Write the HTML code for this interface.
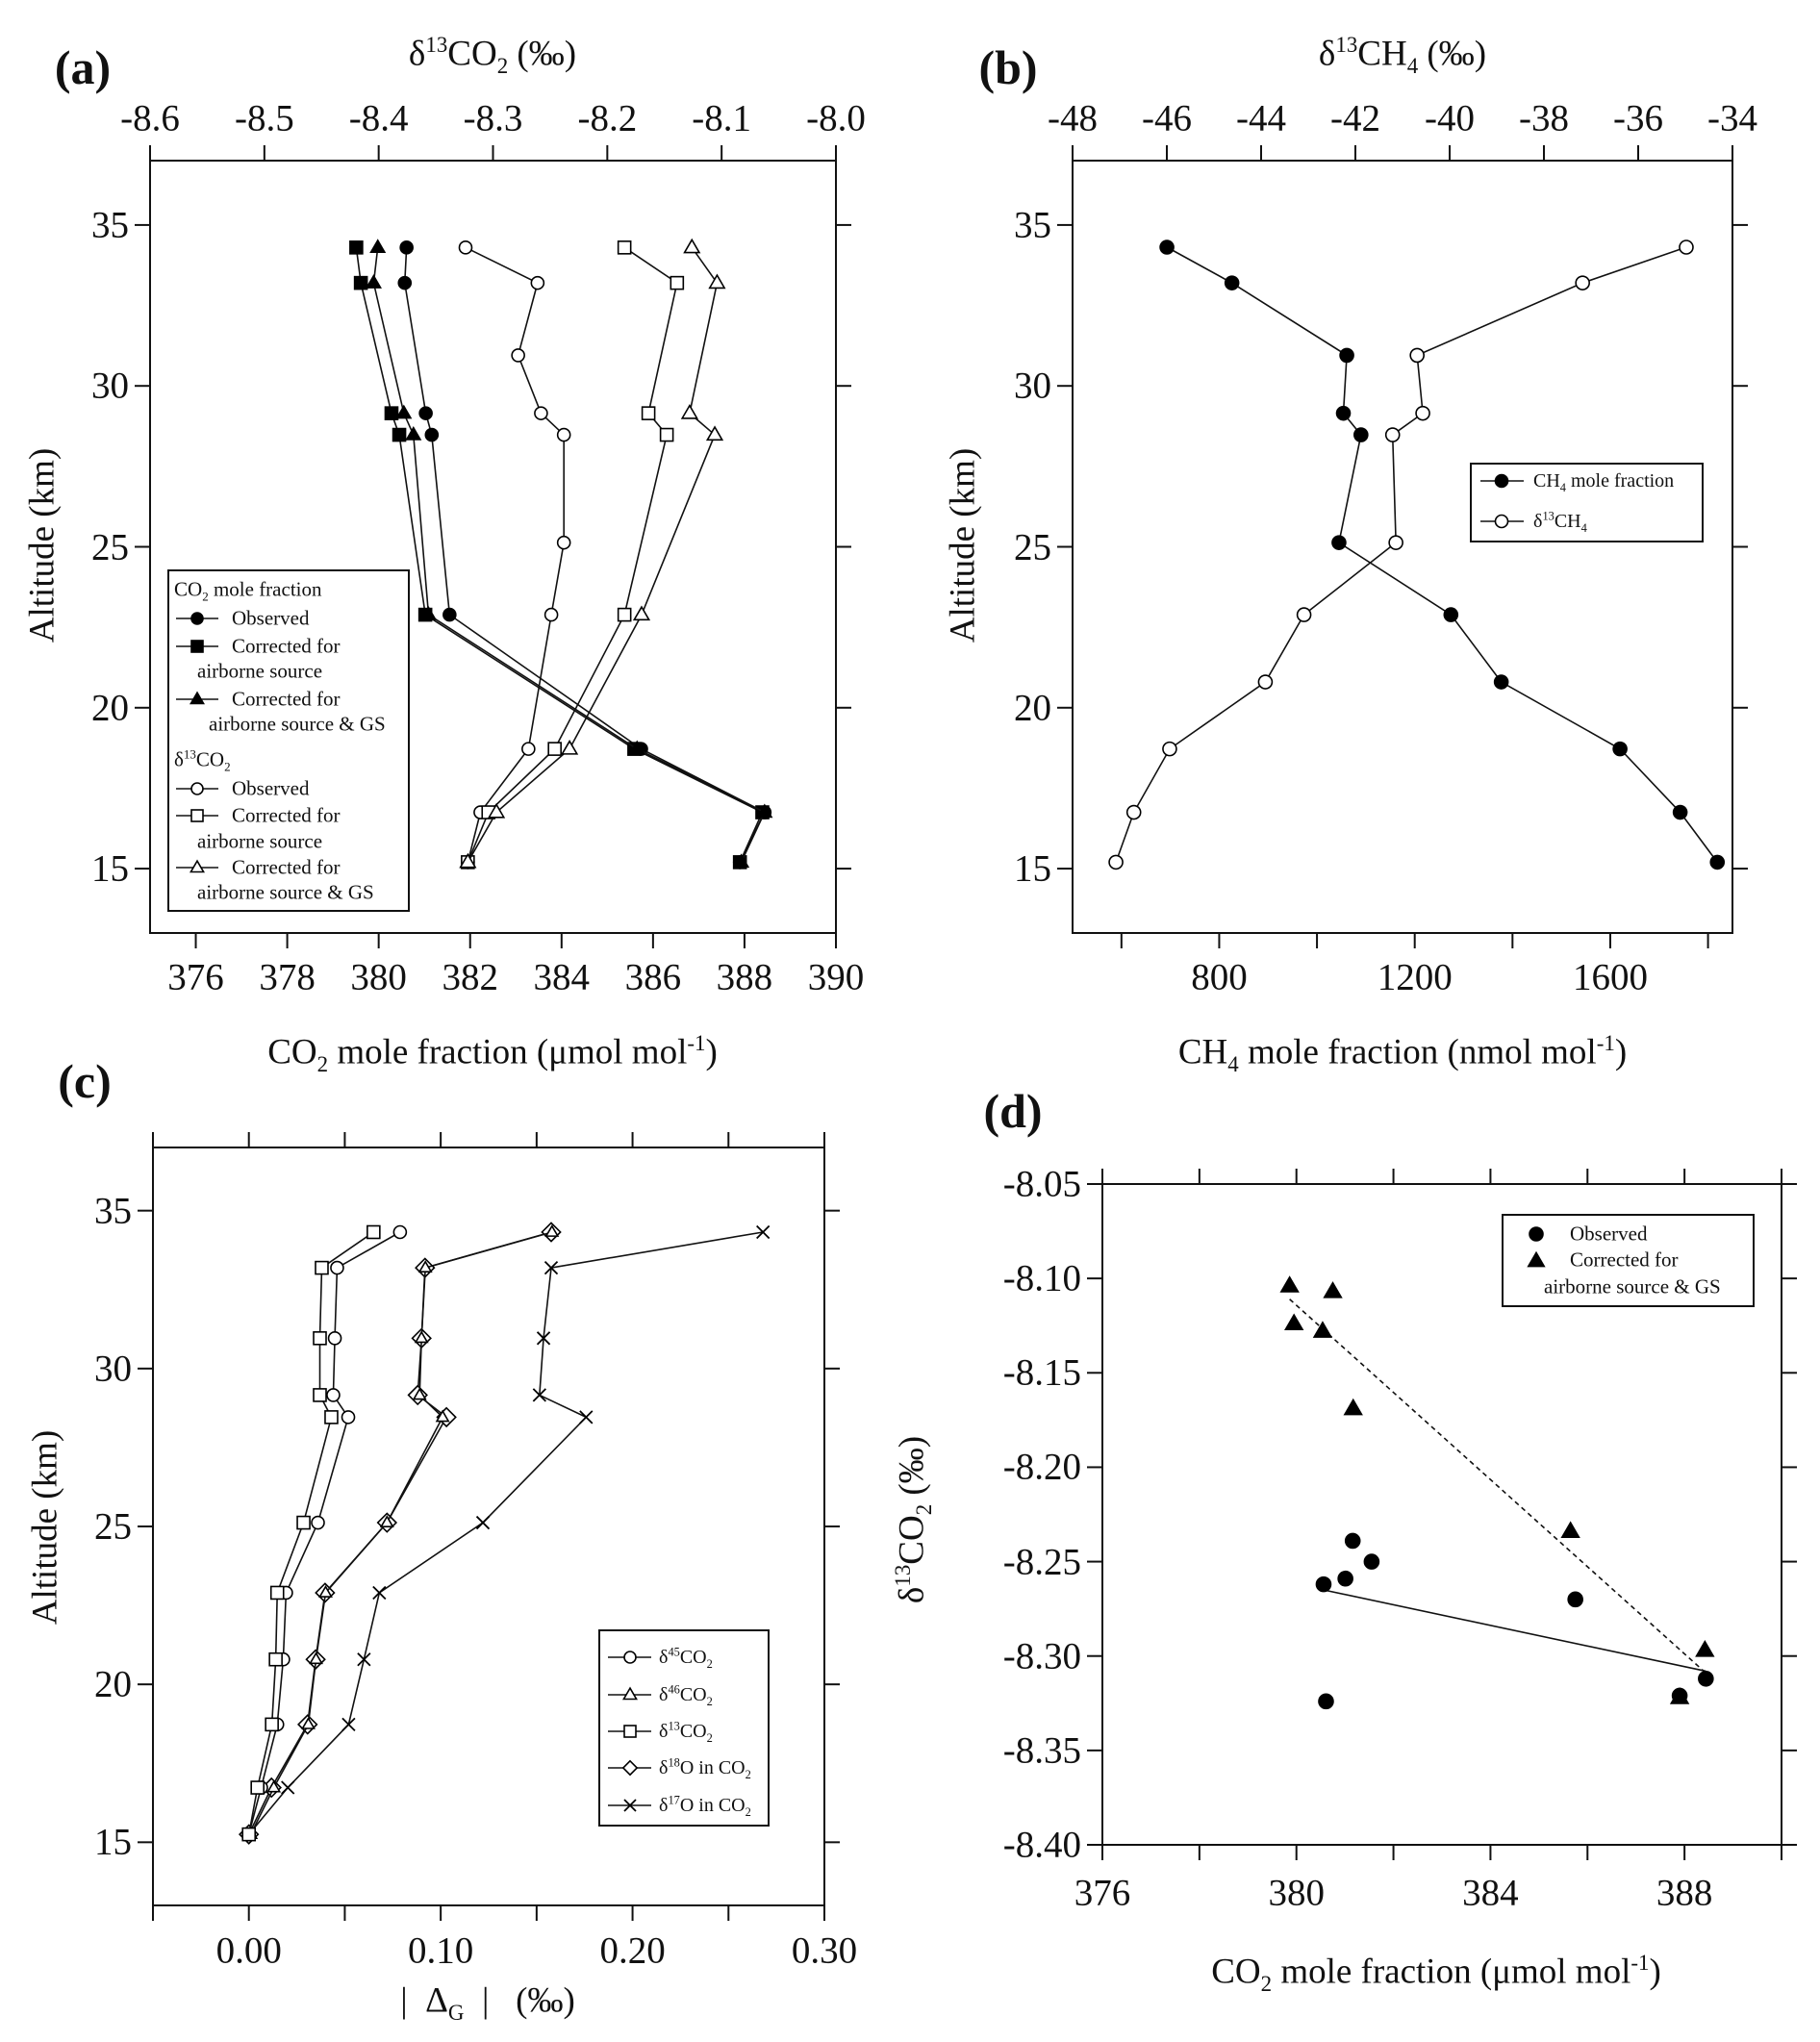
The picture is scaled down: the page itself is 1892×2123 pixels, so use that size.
<!DOCTYPE html>
<html><head><meta charset="utf-8">
<style>
html,body{margin:0;padding:0;background:#fff;}
#root{position:relative;width:1892px;height:2123px;overflow:hidden;background:#fff;font-family:"Liberation Serif","DejaVu Serif",serif;color:#111;}
svg{position:absolute;left:0;top:0;}
.t{position:absolute;white-space:nowrap;transform:translate(-50%,-50%);line-height:1;}
.tl{position:absolute;white-space:nowrap;transform:translate(0,-50%);line-height:1;}
.tr{position:absolute;white-space:nowrap;transform:translate(-100%,-50%);line-height:1;}
sub,sup{font-size:62%;line-height:0;}
.rot{position:absolute;white-space:nowrap;transform:translate(-50%,-50%) rotate(-90deg);line-height:1;}
</style></head>
<body>
<div id="root">
<svg id="svg" width="1892" height="2123" xmlns="http://www.w3.org/2000/svg"></svg>
</div>
<script>
// ---------- Panel (a) data ----------
const altA = [34.3, 33.2, 29.15, 28.48, 22.89, 18.72, 16.75, 15.2];
const co2Obs = [380.61, 380.57, 381.03, 381.16, 381.55, 385.74, 388.44, 387.9];
const co2Air = [379.51, 379.61, 380.28, 380.45, 381.02, 385.59, 388.39, 387.9];
const co2GS = [379.98, 379.89, 380.55, 380.76, 381.09, 385.65, 388.44, 387.93];
const altA13 = [34.3, 33.2, 30.95, 29.15, 28.48, 25.13, 22.89, 18.72, 16.75, 15.2];
const d13Obs = [-8.324, -8.261, -8.278, -8.258, -8.238, -8.238, -8.249, -8.269, -8.311, -8.322];
const d13Air = [-8.185, -8.139, -8.164, -8.148, -8.185, -8.246, -8.304, -8.322];
const d13GS = [-8.126, -8.104, -8.128, -8.106, -8.170, -8.233, -8.297, -8.322];
const aBottomTicks = [376, 378, 380, 382, 384, 386, 388, 390];
const aTopTicks = [-8.6, -8.5, -8.4, -8.3, -8.2, -8.1, -8.0];
const altTicks = [15, 20, 25, 30, 35];
// ---------- Panel (b) data ----------
const altB = [34.31, 33.2, 30.95, 29.15, 28.48, 25.13, 22.89, 20.8, 18.72, 16.75, 15.2];
const ch4 = [693, 826, 1061, 1054, 1090, 1045, 1274, 1377, 1620, 1743, 1819];
const d13ch4 = [-34.98, -37.18, -40.69, -40.57, -41.21, -41.14, -43.09, -43.91, -45.94, -46.70, -47.08];
const bBottomTicks = [600, 800, 1000, 1200, 1400, 1600, 1800];
const bBottomLabels = [800, 1200, 1600];
const bTopTicks = [-48, -46, -44, -42, -40, -38, -36, -34];
// ---------- Panel (c) data ----------
const altC = [34.32, 33.19, 30.96, 29.16, 28.46, 25.12, 22.9, 20.79, 18.73, 16.73, 15.25];
const d45 = [0.0788, 0.046, 0.0448, 0.044, 0.0518, 0.036, 0.0194, 0.0179, 0.0148, 0.0064, 0];
const d46 = [0.158, 0.092, 0.090, 0.089, 0.101, 0.072, 0.040, 0.035, 0.031, 0.013, 0.001];
const d13c = [0.065, 0.038, 0.037, 0.037, 0.043, 0.0285, 0.0148, 0.014, 0.012, 0.0045, 0];
const d18 = [0.1576, 0.0918, 0.090, 0.088, 0.103, 0.072, 0.0397, 0.0348, 0.0306, 0.0118, 0];
const d17 = [0.268, 0.1576, 0.1536, 0.1515, 0.1758, 0.122, 0.068, 0.060, 0.052, 0.0203, 0];
const cTicks = [-0.05, 0, 0.05, 0.10, 0.15, 0.20, 0.25, 0.30];
const cLabels = [0, 0.10, 0.20, 0.30];
// ---------- Panel (d) data ----------
const dObsX = [380.56, 381.01, 381.16, 381.55, 380.61, 385.75, 387.9, 388.44];
const dObsY = [-8.262, -8.259, -8.239, -8.250, -8.324, -8.270, -8.321, -8.312];
const dGSX = [379.86, 379.95, 380.75, 380.54, 381.17, 385.65, 388.42, 387.9];
const dGSY = [-8.104, -8.124, -8.107, -8.128, -8.169, -8.234, -8.297, -8.322];
const fitObsX = [380.56, 388.44];
const fitObsY = [-8.265, -8.308];
const fitGSX = [379.86, 388.44];
const fitGSY = [-8.111, -8.309];
const dXTicks = [376, 378, 380, 382, 384, 386, 388, 390];
const dXLabels = [376, 380, 384, 388];
const dYTicks = [-8.05, -8.10, -8.15, -8.20, -8.25, -8.30, -8.35, -8.40];

const NS = "http://www.w3.org/2000/svg";
const svg = document.getElementById('svg');
const root = document.getElementById('root');
const TF = 39;
const HF = 37;

function el(tag, attrs, parent) {
  const e = document.createElementNS(NS, tag);
  for (const k in attrs) e.setAttribute(k, attrs[k]);
  (parent || svg).appendChild(e);
  return e;
}
function scale(d0, d1, r0, r1) { return v => r0 + (v - d0) * (r1 - r0) / (d1 - d0); }
function text(html, x, y, cls, size, name, extra) {
  const d = document.createElement('div');
  d.className = cls;
  d.style.left = x + 'px'; d.style.top = y + 'px'; d.style.fontSize = size + 'px';
  if (extra) d.style.cssText += extra;
  d.innerHTML = html;
  
  
  root.appendChild(d);
  return d;
}
function marker(shape, x, y, filled, r, name) {
  const fill = filled ? '#000' : '#fff';
  const g = el('g', {});
  
  
  const st = {fill: fill, stroke: '#000', 'stroke-width': 1.6};
  if (shape === 'circle') el('circle', Object.assign({cx: x, cy: y, r: r}, st), g);
  else if (shape === 'square') el('rect', Object.assign({x: x - r, y: y - r, width: 2 * r, height: 2 * r}, st), g);
  else if (shape === 'triangle') el('polygon', Object.assign({points: `${x},${y - r * 1.15} ${x - r * 1.1},${y + r * 0.75} ${x + r * 1.1},${y + r * 0.75}`}, st), g);
  else if (shape === 'diamond') el('polygon', Object.assign({points: `${x},${y - r * 1.2} ${x + r * 1.2},${y} ${x},${y + r * 1.2} ${x - r * 1.2},${y}`}, st), g);
  else if (shape === 'cross') {
    el('line', {x1: x - r, y1: y - r, x2: x + r, y2: y + r, stroke: '#000', 'stroke-width': 1.8}, g);
    el('line', {x1: x - r, y1: y + r, x2: x + r, y2: y - r, stroke: '#000', 'stroke-width': 1.8}, g);
  }
  return g;
}
function series(xs, ys, sx, sy, shape, filled, r, name) {
  const pts = xs.map((v, i) => sx(v) + ',' + sy(ys[i])).join(' ');
  const pl = el('polyline', {points: pts, fill: 'none', stroke: '#111', 'stroke-width': 1.6});
  
  
  xs.forEach((v, i) => marker(shape, sx(v), sy(ys[i]), filled, r, name + '-point'));
}
function box(L, T, R, B, name) {
  const r = el('rect', {x: L, y: T, width: R - L, height: B - T, fill: 'none', stroke: '#111', 'stroke-width': 2});
  
  
}
function tick(x1, y1, x2, y2) { el('line', {x1, y1, x2, y2, stroke: '#111', 'stroke-width': 2}); }
function altAxis(L, R, sy, labelX, panel) {
  altTicks.forEach(v => {
    const y = sy(v);
    tick(L - 16, y, L, y);
    tick(R, y, R + 16, y);
    text(String(v), L - 22, y, 'tr', TF, panel + '-y-tick-label');
  });
}

// ============ Panel (a) ============
(function () {
  const L = 156, R = 869, T = 167, B = 970;
  const sx = scale(375, 390, L, R);
  const sxTop = scale(-8.6, -8.0, L, R);
  const sy = scale(13, 37, B, T);
  box(L, T, R, B, 'panel-a-plot-area');
  altAxis(L, R, sy, 0, 'panel-a');
  aBottomTicks.forEach(v => { tick(sx(v), B, sx(v), B + 16); text(String(v), sx(v), 1016, 't', TF, 'panel-a-x-tick-label'); });
  aTopTicks.forEach(v => { tick(sxTop(v), T - 16, sxTop(v), T); text(v.toFixed(1), sxTop(v), 123, 't', TF, 'panel-a-top-tick-label'); });
  series(co2Obs, altA, sx, sy, 'circle', true, 6.5, 'co2-observed');
  series(co2Air, altA, sx, sy, 'square', true, 6.5, 'co2-corrected-airborne');
  series(co2GS, altA, sx, sy, 'triangle', true, 6.5, 'co2-corrected-gs');
  series(d13Obs, altA13, sxTop, sy, 'circle', false, 6.5, 'd13co2-observed');
  series(d13Air, altA, sxTop, sy, 'square', false, 6.5, 'd13co2-corrected-airborne');
  series(d13GS, altA, sxTop, sy, 'triangle', false, 7, 'd13co2-corrected-gs');
  text('(a)', 86, 70, 't', 50, 'panel-a-label', 'font-weight:bold;');
  text('δ<sup>13</sup>CO<sub>2</sub> (‰)', 512, 56, 't', HF, 'panel-a-top-axis-title');
  text('CO<sub>2</sub> mole fraction (μmol mol<sup>-1</sup>)', 512, 1094, 't', HF, 'panel-a-x-axis-title');
  text('Altitude (km)', 44, 567, 'rot', HF, 'panel-a-y-axis-title');
  const lg = el('rect', {x: 175, y: 593, width: 250, height: 354, fill: '#fff', stroke: '#111', 'stroke-width': 2});
  
  
  text('CO<sub>2</sub> mole fraction', 181, 613, 'tl', 21, 'legend-header-co2');
  const rows = [[643, 'circle', true, 'Observed'], [672, 'square', true, 'Corrected for'], [727, 'triangle', true, 'Corrected for'],
                [820, 'circle', false, 'Observed'], [848, 'square', false, 'Corrected for'], [902, 'triangle', false, 'Corrected for']];
  rows.forEach(rw => {
    el('line', {x1: 183, y1: rw[0], x2: 227, y2: rw[0], stroke: '#111', 'stroke-width': 1.6});
    marker(rw[1], 205, rw[0], rw[2], 6, 'legend-marker');
    text(rw[3], 241, rw[0], 'tl', 21, 'legend-entry');
  });
  text('airborne source', 205, 698, 'tl', 21, 'legend-entry');
  text('airborne source &amp; GS', 217, 753, 'tl', 21, 'legend-entry');
  text('δ<sup>13</sup>CO<sub>2</sub>', 181, 790, 'tl', 21, 'legend-header-d13co2');
  text('airborne source', 205, 875, 'tl', 21, 'legend-entry');
  text('airborne source &amp; GS', 205, 928, 'tl', 21, 'legend-entry');
})();

// ============ Panel (b) ============
(function () {
  const L = 1115, R = 1801, T = 167, B = 970;
  const sx = scale(500, 1850, L, R);
  const sxTop = scale(-48, -34, L, R);
  const sy = scale(13, 37, B, T);
  box(L, T, R, B, 'panel-b-plot-area');
  altAxis(L, R, sy, 0, 'panel-b');
  bBottomTicks.forEach(v => tick(sx(v), B, sx(v), B + 16));
  bBottomLabels.forEach(v => text(String(v), sx(v), 1016, 't', TF, 'panel-b-x-tick-label'));
  bTopTicks.forEach(v => { tick(sxTop(v), T - 16, sxTop(v), T); text(String(v), sxTop(v), 123, 't', TF, 'panel-b-top-tick-label'); });
  series(ch4, altB, sx, sy, 'circle', true, 7, 'ch4-mole-fraction');
  series(d13ch4, altB, sxTop, sy, 'circle', false, 7, 'd13ch4');
  text('(b)', 1048, 70, 't', 50, 'panel-b-label', 'font-weight:bold;');
  text('δ<sup>13</sup>CH<sub>4</sub> (‰)', 1458, 56, 't', HF, 'panel-b-top-axis-title');
  text('CH<sub>4</sub> mole fraction (nmol mol<sup>-1</sup>)', 1458, 1094, 't', HF, 'panel-b-x-axis-title');
  text('Altitude (km)', 1001, 567, 'rot', HF, 'panel-b-y-axis-title');
  const lg = el('rect', {x: 1529, y: 482, width: 241, height: 81, fill: '#fff', stroke: '#111', 'stroke-width': 2});
  
  
  [[500, true, 'CH<sub>4</sub> mole fraction'], [542, false, 'δ<sup>13</sup>CH<sub>4</sub>']].forEach(rw => {
    el('line', {x1: 1539, y1: rw[0], x2: 1584, y2: rw[0], stroke: '#111', 'stroke-width': 1.6});
    marker('circle', 1561, rw[0], rw[1], 6.5, 'legend-marker');
    text(rw[2], 1594, rw[0], 'tl', 20, 'legend-entry');
  });
})();

// ============ Panel (c) ============
(function () {
  const L = 159, R = 857, T = 1193, B = 1981;
  const sx = scale(-0.05, 0.30, L, R);
  const sy = scale(13, 37, B, T);
  box(L, T, R, B, 'panel-c-plot-area');
  altAxis(L, R, sy, 0, 'panel-c');
  cTicks.forEach(v => { tick(sx(v), B, sx(v), B + 16); tick(sx(v), T - 16, sx(v), T); });
  cLabels.forEach(v => text(v.toFixed(2), sx(v), 2028, 't', TF, 'panel-c-x-tick-label'));
  series(d17, altC, sx, sy, 'cross', false, 6.5, 'd17o-in-co2');
  series(d18, altC, sx, sy, 'diamond', false, 8, 'd18o-in-co2');
  series(d46, altC, sx, sy, 'triangle', false, 5.5, 'd46co2');
  series(d45, altC, sx, sy, 'circle', false, 6.5, 'd45co2');
  series(d13c, altC, sx, sy, 'square', false, 6.5, 'd13co2-delta');
  text('(c)', 88, 1124, 't', 50, 'panel-c-label', 'font-weight:bold;');
  text('|&nbsp;&nbsp;Δ<sub>G</sub>&nbsp;&nbsp;|&nbsp;&nbsp;&nbsp;(‰)', 507, 2080, 't', HF, 'panel-c-x-axis-title');
  text('Altitude (km)', 47, 1588, 'rot', HF, 'panel-c-y-axis-title');
  const lg = el('rect', {x: 623, y: 1695, width: 176, height: 203, fill: '#fff', stroke: '#111', 'stroke-width': 2});
  
  
  [[1723, 'circle', 'δ<sup>45</sup>CO<sub>2</sub>'], [1762, 'triangle', 'δ<sup>46</sup>CO<sub>2</sub>'], [1800, 'square', 'δ<sup>13</sup>CO<sub>2</sub>'],
   [1838, 'diamond', 'δ<sup>18</sup>O in CO<sub>2</sub>'], [1877, 'cross', 'δ<sup>17</sup>O in CO<sub>2</sub>']].forEach(rw => {
    el('line', {x1: 632, y1: rw[0], x2: 677, y2: rw[0], stroke: '#111', 'stroke-width': 1.6});
    marker(rw[1], 655, rw[0], false, 6, 'legend-marker');
    text(rw[2], 685, rw[0], 'tl', 20, 'legend-entry');
  });
})();

// ============ Panel (d) ============
(function () {
  const L = 1146, R = 1852, T = 1231, B = 1918;
  const sx = scale(376, 390, L, R);
  const sy = scale(-8.40, -8.05, B, T);
  box(L, T, R, B, 'panel-d-plot-area');
  dXTicks.forEach(v => { tick(sx(v), B, sx(v), B + 16); tick(sx(v), T - 16, sx(v), T); });
  dXLabels.forEach(v => text(String(v), sx(v), 1968, 't', TF, 'panel-d-x-tick-label'));
  dYTicks.forEach(v => {
    tick(L - 16, sy(v), L, sy(v)); tick(R, sy(v), R + 16, sy(v));
    text(v.toFixed(2), L - 22, sy(v), 'tr', TF, 'panel-d-y-tick-label');
  });
  const f1 = el('line', {x1: sx(fitObsX[0]), y1: sy(fitObsY[0]), x2: sx(fitObsX[1]), y2: sy(fitObsY[1]), stroke: '#111', 'stroke-width': 1.6});
  
  
  const f2 = el('line', {x1: sx(fitGSX[0]), y1: sy(fitGSY[0]), x2: sx(fitGSX[1]), y2: sy(fitGSY[1]), stroke: '#111', 'stroke-width': 1.6, 'stroke-dasharray': '5,4'});
  
  
  dGSX.forEach((v, i) => marker('triangle', sx(v), sy(dGSY[i]), true, 8, 'corrected-point'));
  dObsX.forEach((v, i) => marker('circle', sx(v), sy(dObsY[i]), true, 7.5, 'observed-point'));
  text('(d)', 1053, 1155, 't', 50, 'panel-d-label', 'font-weight:bold;');
  text('CO<sub>2</sub> mole fraction (μmol mol<sup>-1</sup>)', 1493, 2050, 't', HF, 'panel-d-x-axis-title');
  text('δ<sup>13</sup>CO<sub>2</sub> (‰)', 948, 1580, 'rot', HF, 'panel-d-y-axis-title');
  const lg = el('rect', {x: 1562, y: 1263, width: 261, height: 95, fill: '#fff', stroke: '#111', 'stroke-width': 2});
  
  
  marker('circle', 1597, 1283, true, 7, 'legend-marker');
  marker('triangle', 1597, 1311, true, 7.5, 'legend-marker');
  text('Observed', 1632, 1283, 'tl', 21, 'legend-entry');
  text('Corrected for', 1632, 1310, 'tl', 21, 'legend-entry');
  text('airborne source &amp; GS', 1605, 1338, 'tl', 21, 'legend-entry');
})();
</script>
</body></html>
